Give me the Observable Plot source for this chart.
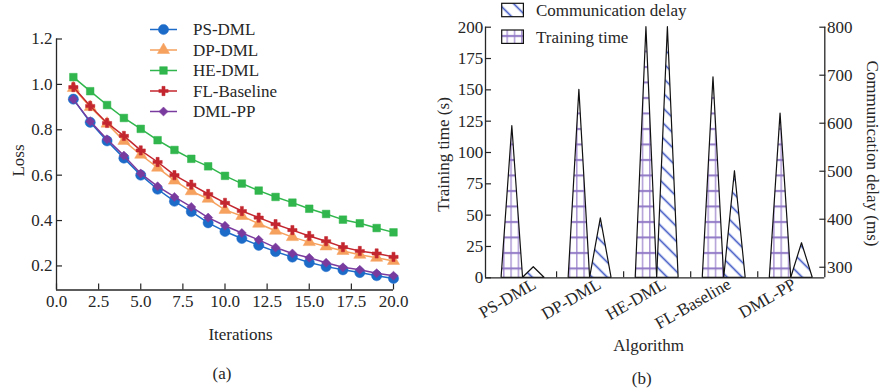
<!DOCTYPE html>
<html>
<head>
<meta charset="utf-8">
<script src="https://cdn.jsdelivr.net/npm/d3@7"></script>
<script src="https://cdn.jsdelivr.net/npm/@observablehq/plot@0.6"></script>
<style>
  html, body { margin: 0; padding: 0; background: #fff; }
  #wrap { position: relative; width: 882px; height: 391px; overflow: hidden; font-family: "Liberation Serif", "Times New Roman", serif; }
  #pa, #pb, #ov { position: absolute; top: 0; }
  #pa { left: 0; }
  #pb { left: 420px; }
  #ov { left: 0; pointer-events: none; }
</style>
</head>
<body>
<svg width="0" height="0" style="position:absolute">
  <defs>
    <pattern id="hPlus" patternUnits="userSpaceOnUse" width="7.3" height="15.5">
      <rect width="7.3" height="15.5" fill="#ffffff"/>
      <line x1="3.5" y1="0" x2="3.5" y2="15.5" stroke="#a893d2" stroke-width="1.4"/>
      <line x1="0" y1="5" x2="7.3" y2="5" stroke="#9078c6" stroke-width="2"/>
    </pattern>
    <pattern id="hDiag" patternUnits="userSpaceOnUse" width="15" height="15">
      <rect width="15" height="15" fill="#ffffff"/>
      <path d="M-1,-1L16,16M-4,11L4,19M11,-4L19,4" stroke="#d3daf4" stroke-width="3.2"/>
      <path d="M-1,-1L16,16M-4,11L4,19M11,-4L19,4" stroke="#5166c9" stroke-width="1.3"/>
    </pattern>
  </defs>
</svg>
<div id="wrap">
  <div id="pa"></div>
  <div id="pb"></div>
  <svg id="ov" width="882" height="391"></svg>
</div>
<script>
// ---------------- data ----------------
const iterations = [1,2,3,4,5,6,7,8,9,10,11,12,13,14,15,16,17,18,19,20];
const lossPS = [0.935,0.833,0.751,0.675,0.600,0.538,0.485,0.439,0.390,0.352,0.321,0.291,0.263,0.239,0.215,0.197,0.183,0.171,0.157,0.145];
const lossDP = [0.984,0.900,0.827,0.751,0.690,0.633,0.576,0.529,0.496,0.447,0.420,0.386,0.355,0.327,0.305,0.286,0.266,0.249,0.236,0.222];
const lossHE = [1.032,0.970,0.909,0.852,0.804,0.754,0.711,0.672,0.639,0.597,0.563,0.532,0.504,0.479,0.452,0.429,0.404,0.388,0.367,0.348];
const lossFL = [0.988,0.905,0.830,0.773,0.709,0.658,0.600,0.558,0.517,0.478,0.442,0.413,0.384,0.358,0.332,0.309,0.283,0.266,0.255,0.240];
const lossPP = [0.934,0.837,0.758,0.686,0.607,0.551,0.504,0.460,0.413,0.377,0.345,0.315,0.281,0.255,0.236,0.214,0.194,0.183,0.168,0.157];
const seriesNames = ["PS-DML","DP-DML","HE-DML","FL-Baseline","DML-PP"];
const lossTicks = [0.2,0.4,0.6,0.8,1.0,1.2];
const iterTicks = [0,2.5,5,7.5,10,12.5,15,17.5,20];

const algorithms = ["PS-DML","DP-DML","HE-DML","FL-Baseline","DML-PP"];
const trainingTime = [121,150,200,160,131];
const commDelay = [300,402,800,500,350];
const timeTicks = [0,25,50,75,100,125,150,175,200];
const delayTicks = [300,400,500,600,700,800];

// ---------------- styles ----------------
const FONT = "Liberation Serif, Times New Roman, serif";
const INK = "#262626";
const styles = [
  {color:"#1d6bc8", symbol:"circle", r:5.1},
  {color:"#f6a15e", symbol:"triangle", r:4.5},
  {color:"#30b64c", symbol:"square", r:4.3},
  {color:"#c3262e", symbol:"cross", r:3.9},
  {color:"#7a3b9e", symbol:"diamond2", r:4.1}
];
const lossSeries = [lossPS, lossDP, lossHE, lossFL, lossPP];

// ---------------- panel (a) ----------------
const yMinA = 0.094;
const marksA = [];
lossSeries.forEach((vals, k) => {
  const d = iterations.map((it, i) => ({it, loss: vals[i]}));
  const s = styles[k];
  marksA.push(Plot.line(d, {x: "it", y: "loss", stroke: s.color, strokeWidth: 1.5}));
  marksA.push(Plot.dot(d, {x: "it", y: "loss", fill: s.color, stroke: s.color, strokeWidth: 0.5, symbol: s.symbol, r: s.r}));
});
const chartA = Plot.plot({
  width: 420, height: 391,
  marginLeft: 56, marginRight: 27, marginTop: 38.5, marginBottom: 101.5,
  style: {fontFamily: FONT, fontSize: "17px", color: INK, background: "transparent", overflow: "visible"},
  x: {domain: [0, 20]},
  y: {domain: [yMinA, 1.2]},
  marks: [
    Plot.ruleX([0], {stroke: INK, strokeWidth: 1.3}),
    Plot.ruleY([yMinA], {stroke: INK, strokeWidth: 1.3}),
    Plot.axisX(iterTicks, {tickSize: -6, tickPadding: 11, tickFormat: d3.format(".1f"), label: null, strokeWidth: 1.2}),
    Plot.axisY(lossTicks, {tickSize: -6, tickPadding: 10, tickFormat: d3.format(".1f"), label: null, strokeWidth: 1.2}),
    Plot.text(["Loss"], {text: d => d, frameAnchor: "left", dx: -38, dy: -4, rotate: -90,
      textAnchor: "middle", lineAnchor: "middle", fill: INK}),
    Plot.text(["Iterations"], {text: d => d, frameAnchor: "bottom", dx: 15.5, dy: 44.5,
      textAnchor: "middle", lineAnchor: "middle", fill: INK}),
    ...marksA
  ]
});
document.getElementById("pa").appendChild(chartA);

// ---------------- panel (b) ----------------
const cMin = 278, cMax = 800, tMax = 200;
const toT = v => (v - cMin) / (cMax - cMin) * tMax;
const W = 0.32;
const trainTri = [], commTri = [];
algorithms.forEach((a, i) => {
  trainTri.push({k: a, x: i - W, y: 0}, {k: a, x: i - W / 2, y: trainingTime[i]}, {k: a, x: i, y: 0});
  commTri.push({k: a, x: i, y: 0}, {k: a, x: i + W / 2, y: toT(commDelay[i])}, {k: a, x: i + W, y: 0});
});
const xDomB = [-0.56, 4.5];
const chartB = Plot.plot({
  width: 462, height: 391,
  marginLeft: 65, marginRight: 57.7, marginTop: 26.7, marginBottom: 113.7,
  style: {fontFamily: FONT, fontSize: "17px", color: INK, background: "transparent", overflow: "visible"},
  x: {domain: xDomB},
  y: {domain: [0, tMax]},
  marks: [
    Plot.areaY(trainTri, {x: "x", y1: 0, y2: "y", z: "k", fill: "url(#hPlus)", stroke: "#111", strokeWidth: 1.2}),
    Plot.areaY(commTri, {x: "x", y1: 0, y2: "y", z: "k", fill: "url(#hDiag)", stroke: "#111", strokeWidth: 1.2}),
    Plot.ruleX(xDomB, {stroke: INK, strokeWidth: 1.3}),
    Plot.ruleY([0], {stroke: INK, strokeWidth: 1.3}),
    Plot.axisY(timeTicks, {anchor: "left", tickSize: -6, tickPadding: 8.3, label: null, strokeWidth: 1.2}),
    Plot.axisY(delayTicks.map(toT), {anchor: "right", tickSize: -6, tickPadding: 8.3, label: null, strokeWidth: 1.2,
      tickFormat: t => String(Math.round(cMin + t / tMax * (cMax - cMin)))}),
    Plot.axisX(algorithms.slice(1).map((a, i) => i + 0.5), {tickSize: -6, tickFormat: () => "", label: null, strokeWidth: 1.2}),
    Plot.text(algorithms, {x: (d, i) => 0.17 + 0.969 * i, text: d => d, frameAnchor: "bottom", dy: 5,
      rotate: -30, textAnchor: "end", lineAnchor: "middle", fill: INK}),
    Plot.text(["Training time (s)"], {text: d => d, frameAnchor: "left", dx: -42, dy: 2, rotate: -90,
      textAnchor: "middle", lineAnchor: "middle", fill: INK}),
    Plot.text(["Communication delay (ms)"], {text: d => d, frameAnchor: "right", dx: 47.4, dy: 1, rotate: 90,
      textAnchor: "middle", lineAnchor: "middle", fill: INK}),
    Plot.text(["Algorithm"], {text: d => d, frameAnchor: "bottom", dx: -6.6, dy: 67.7,
      textAnchor: "middle", lineAnchor: "middle", fill: INK})
  ]
});
document.getElementById("pb").appendChild(chartB);

// ---------------- legends & captions ----------------
const ov = d3.select("#ov").style("font-family", FONT).style("font-size", "17px");
const symMap = {circle: d3.symbolCircle, triangle: d3.symbolTriangle, square: d3.symbolSquare, cross: d3.symbolCross, diamond2: d3.symbolDiamond2};
seriesNames.forEach((name, k) => {
  const y = 29.5 + k * 20.5;
  const s = styles[k];
  ov.append("line").attr("x1", 150).attr("x2", 177).attr("y1", y).attr("y2", y).attr("stroke", s.color).attr("stroke-width", 1.5);
  ov.append("path").attr("transform", `translate(163.5,${y})`)
    .attr("d", d3.symbol().type(symMap[s.symbol]).size(Math.PI * s.r * s.r)())
    .attr("fill", s.color).attr("stroke", s.color).attr("stroke-width", 0.5);
  ov.append("text").attr("x", 193).attr("y", y).attr("dy", "0.35em").attr("fill", INK).text(name);
});
const legB = [
  {label: "Communication delay", fill: "url(#hDiag)", y: 3.3},
  {label: "Training time", fill: "url(#hPlus)", y: 30}
];
legB.forEach(l => {
  ov.append("rect").attr("x", 501.7).attr("y", l.y).attr("width", 21.7).attr("height", 13.4)
    .attr("fill", l.fill).attr("stroke", "#111").attr("stroke-width", 1.2);
  ov.append("text").attr("x", 536).attr("y", l.y + 6.7).attr("dy", "0.35em").attr("fill", INK).text(l.label);
});
ov.append("text").attr("x", 222).attr("y", 373).attr("dy", "0.35em").attr("text-anchor", "middle").attr("fill", INK).text("(a)");
ov.append("text").attr("x", 641.7).attr("y", 378).attr("dy", "0.35em").attr("text-anchor", "middle").attr("fill", INK).text("(b)");
</script>
</body>
</html>
